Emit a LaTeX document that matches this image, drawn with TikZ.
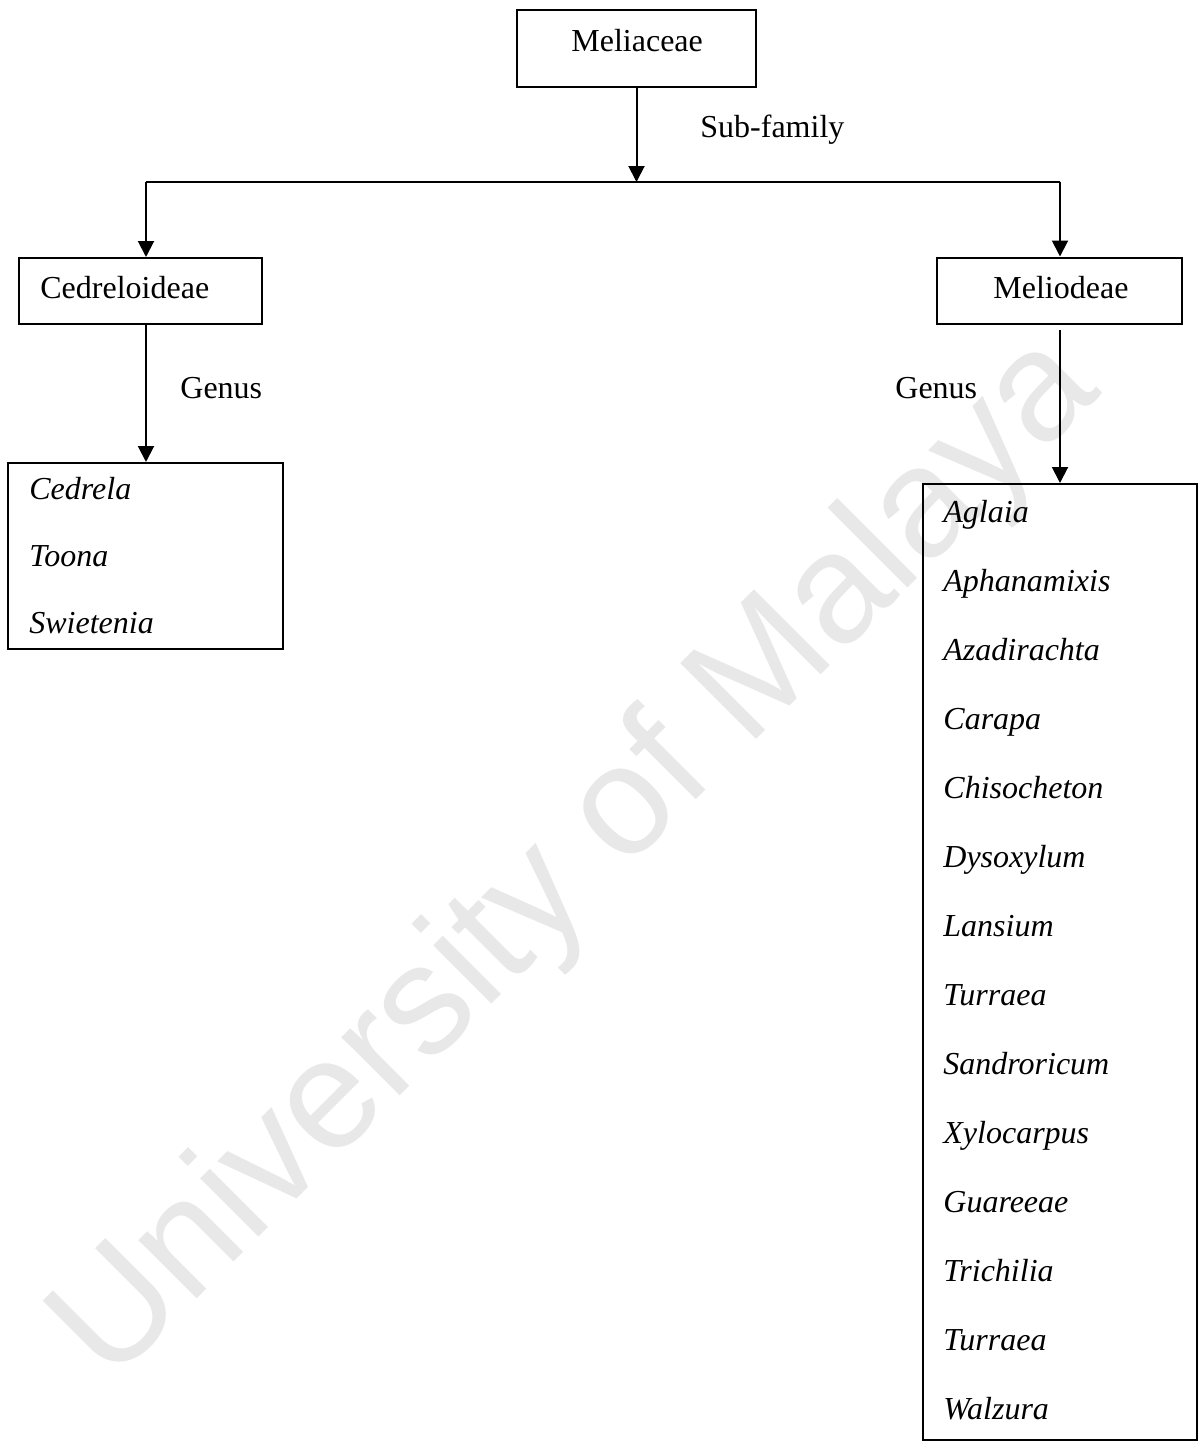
\documentclass[tikz,border=0pt]{standalone}
\usepackage{fontspec}
\setmainfont{Liberation Serif}
\newfontfamily\wmfont{Liberation Sans}
\usetikzlibrary{arrows.meta}
\begin{document}
\begin{tikzpicture}[x=0.5pt,y=-0.5pt,
  box/.style={draw,line width=1pt,rectangle,inner sep=0pt},
  lbl/.style={anchor=base west,inner sep=0pt,font=\fontsize{16pt}{19pt}\selectfont},
  gen/.style={lbl,font=\fontsize{16pt}{19pt}\selectfont\itshape},
  conn/.style={line width=1pt},
  arr/.style={line width=1pt,-{Triangle[length=8pt,width=8pt]}},
  wm/.style={anchor=base west,inner sep=0pt,rotate=45,text=black!9,
    font=\fontsize{78pt}{90pt}\selectfont\wmfont}]
\useasboundingbox (0,0) rectangle (1200,1450);
% watermark
\node[wm] (watermark) at (110,1386) {University of Malaya};
% boxes
\node[box,minimum width=119.5pt,minimum height=38.5pt] (meli) at (636.5,48.5) {};
\node[box,minimum width=121.5pt,minimum height=33pt] (cedr) at (140.5,291) {};
\node[box,minimum width=122.5pt,minimum height=33pt] (mlio) at (1059.5,290.5) {};
\node[box,minimum width=137.5pt,minimum height=93pt] (lbox) at (145.5,556) {};
\node[box,minimum width=137pt,minimum height=478pt] (rbox) at (1060,962) {};
% texts
\node[lbl] (melit) at (571,52) {Meliaceae};
\node[lbl] (subf) at (700,138) {Sub-family};
\node[lbl] (cedrt) at (40,298) {Cedreloideae};
\node[lbl] (mliot) at (993,298) {Meliodeae};
\node[lbl] (genl) at (180,398) {Genus};
\node[lbl] (genr) at (895,398) {Genus};
\node[gen] (g1) at (29,499) {Cedrela};
\node[gen] (g2) at (29,566) {Toona};
\node[gen] (g3) at (29,633) {Swietenia};
\foreach \t [count=\i] in {Aglaia,Aphanamixis,Azadirachta,Carapa,Chisocheton,Dysoxylum,Lansium,Turraea,Sandroricum,Xylocarpus,Guareeae,Trichilia,Turraea,Walzura}
  \node[gen] (r\i) at (943,{522+69*(\i-1)}) {\t};
% connectors
\coordinate (junc) at (636.5,182);
\coordinate (jl) at (146,182);
\coordinate (jr) at (1060,182);
\coordinate (mstart) at (1060,330);
\draw[arr] (meli.south) -- (junc);
\draw[conn] (jl) -- (jr);
\draw[arr] (jl) -- (jl |- cedr.north);
\draw[arr] (jr) -- (jr |- mlio.north);
\draw[arr] (jl |- cedr.south) -- (jl |- lbox.north);
\draw[arr] (mstart) -- (rbox.north);
\end{tikzpicture}
\end{document}
